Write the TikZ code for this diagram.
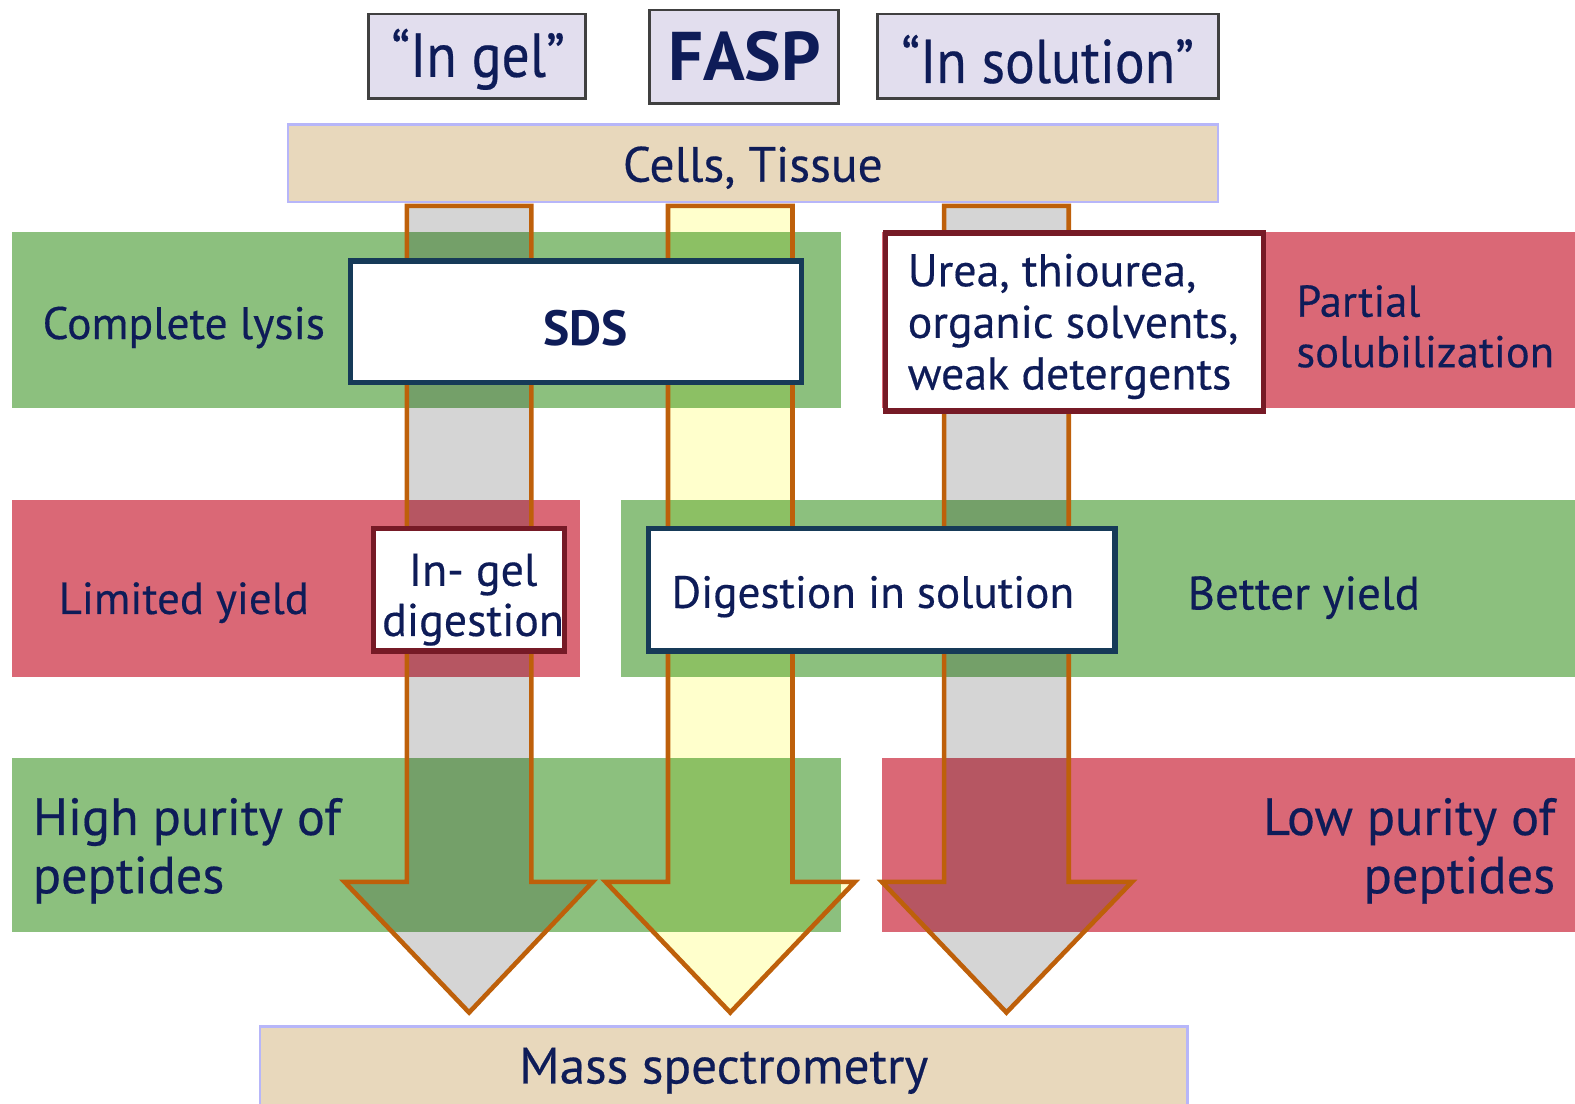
\documentclass[tikz,border=0pt]{standalone}
\usepackage{fontspec}
\setmainfont{PT Sans}[UprightFeatures={FakeBold=0.35}]
\definecolor{bgreen}{RGB}{140,192,126}
\definecolor{bred}{RGB}{218,104,118}
\definecolor{beige}{RGB}{232,216,188}
\definecolor{lav}{RGB}{226,222,238}
\definecolor{navy}{RGB}{14,28,88}
\definecolor{arrowedge}{RGB}{190,96,10}
\definecolor{agray}{RGB}{213,213,213}
\definecolor{ayellow}{RGB}{255,255,204}
\definecolor{tealb}{RGB}{22,58,88}
\definecolor{darkred}{RGB}{118,26,38}
\tikzset{
  band/.style={draw=none, inner sep=0pt, outer sep=0pt},
  topbox/.style={draw=black!75, line width=0.8pt, fill=lav, inner sep=0pt},
  beigebar/.style={draw=lav!60!blue!60, line width=0.6pt, fill=beige, inner sep=0pt},
  whitebox/.style={fill=white, line width=1.5pt, inner sep=0pt},
  bigarrow/.style={line width=1.3pt, draw=arrowedge, line join=miter},
  lbl/.style={text=navy, inner sep=0pt, align=left},
}
\begin{document}
\begin{tikzpicture}[x=0.01cm,y=-0.01cm]
\useasboundingbox (0,0) rectangle (1568,1099);
% top boxes
\node[topbox, minimum width=2.16cm, minimum height=0.84cm] (ingel) at (475,56) {};
\node[lbl, font=\fontsize{17.5}{20}\selectfont] at (476,59) {\scalebox{0.9}[1]{“In gel”}};
\node[topbox, minimum width=1.88cm, minimum height=0.93cm] (fasp) at (741,56.5) {};
\node[lbl, font=\fontsize{19.5}{24}\selectfont\bfseries] at (741,56) {FASP};
\node[topbox, minimum width=3.39cm, minimum height=0.84cm] (insol) at (1043.5,56) {};
\node[lbl, font=\fontsize{17.5}{20}\selectfont] at (1043,59) {\scalebox{0.9}[1]{“In solution”}};
% cells
\node[beigebar, minimum width=9.25cm, minimum height=0.77cm] (cells) at (749.5,162.5) {};
\node[lbl, font=\fontsize{14}{17}\selectfont] at (749.5,167) {Cells, Tissue};
% mass spectrometry
\node[beigebar, minimum width=9.23cm, minimum height=0.82cm] (ms) at (720.5,1063) {};
\node[lbl, font=\fontsize{14.5}{17}\selectfont] at (720.5,1066) {Mass spectrometry};
% arrow fills
\fill[agray] (405,205) -- (529,205) -- (529,878) -- (590,878) -- (467,1008) -- (343,878) -- (405,878) -- cycle;
\fill[ayellow] (665,205) -- (789,205) -- (789,878) -- (851,878) -- (727,1008) -- (603,878) -- (665,878) -- cycle;
\fill[agray] (940,205) -- (1064,205) -- (1064,878) -- (1127,878) -- (1002,1008) -- (878,878) -- (940,878) -- cycle;
% bands
\begin{scope}[blend mode=multiply]
\node[band, fill=bgreen, minimum width=8.25cm, minimum height=1.75cm] (b1) at (424.5,318.5) {};
\node[band, fill=bred, minimum width=6.90cm, minimum height=1.75cm] (b2) at (1223,318.5) {};
\node[band, fill=bred, minimum width=5.65cm, minimum height=1.76cm] (b3) at (294.5,586) {};
\node[band, fill=bgreen, minimum width=9.49cm, minimum height=1.76cm] (b4) at (1093.5,586) {};
\node[band, fill=bgreen, minimum width=8.25cm, minimum height=1.73cm] (b5) at (424.5,841.5) {};
\node[band, fill=bred, minimum width=6.90cm, minimum height=1.73cm] (b6) at (1223,841.5) {};
\end{scope}
% arrow outlines
\draw[bigarrow] (405,205) -- (529,205) -- (529,878) -- (590,878) -- (467,1008) coordinate (tipA) -- (343,878) -- (405,878) -- cycle;
\draw[bigarrow] (665,205) -- (789,205) -- (789,878) -- (851,878) -- (727,1008) coordinate (tipB) -- (603,878) -- (665,878) -- cycle;
\draw[bigarrow] (940,205) -- (1064,205) -- (1064,878) -- (1127,878) -- (1002,1008) coordinate (tipC) -- (878,878) -- (940,878) -- cycle;
% white boxes
\node[whitebox, draw=tealb, minimum width=4.49cm, minimum height=1.21cm] (sds) at (573.5,320.5) {};
\node[lbl, font=\fontsize{14}{17}\selectfont\bfseries] at (583,327) {SDS};
\node[whitebox, draw=darkred, minimum width=3.76cm, minimum height=1.77cm] (urea) at (1070,320.5) {};
\node[lbl, anchor=west, font=\fontsize{13}{14.6}\selectfont] at (903,325) {Urea, thiourea,\\organic solvents,\\weak detergents};
\node[whitebox, draw=darkred, minimum width=1.90cm, minimum height=1.22cm] (igd) at (467,587) {};
\node[lbl, align=center, font=\fontsize{13}{14.2}\selectfont] at (471,597) {In- gel\\digestion};
\node[whitebox, draw=tealb, minimum width=4.64cm, minimum height=1.22cm] (dis) at (878,587) {};
\node[lbl, font=\fontsize{12.8}{16}\selectfont] at (869,594) {Digestion in solution};
% band labels
\node[lbl, font=\fontsize{12.9}{16}\selectfont] at (183,326) {Complete lysis};
\node[lbl, anchor=west, font=\fontsize{12.6}{14.3}\selectfont] at (1290,325) {Partial\\solubilization};
\node[lbl, font=\fontsize{12.7}{16}\selectfont] at (183,600) {Limited yield};
\node[lbl, font=\fontsize{13.3}{16}\selectfont] at (1298,595) {Better yield};
\node[lbl, anchor=west, font=\fontsize{14.8}{16.5}\selectfont] at (32,847) {High purity of\\peptides};
\node[lbl, anchor=east, align=right, font=\fontsize{14.8}{16.5}\selectfont] at (1549,847) {Low purity of\\peptides};
\end{tikzpicture}
\end{document}
